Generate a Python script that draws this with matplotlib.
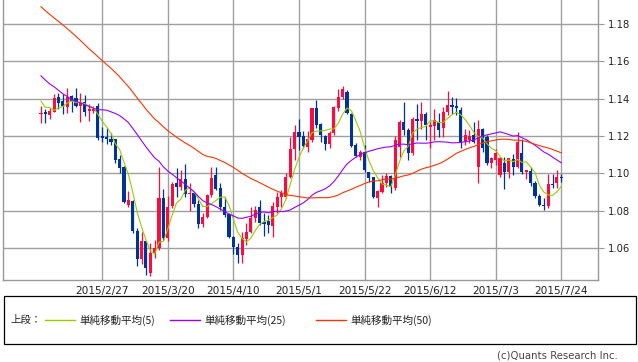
import matplotlib
matplotlib.use('Agg')
import matplotlib.pyplot as plt
import numpy as np
import pandas as pd
from matplotlib.lines import Line2D
from matplotlib.patches import Rectangle

# Daily OHLC, weekdays 2015/2/9 - 2015/7/24
opens = [1.1320, 1.1329, 1.1314, 1.1330, 1.1407, 1.1389, 1.1354, 1.1414, 1.1402, 1.1361,
         1.1384, 1.1334, 1.1334, 1.1361, 1.1200, 1.1196, 1.1186, 1.1182, 1.1075, 1.1032,
         1.0830, 1.0854, 1.0693, 1.0541, 1.0638, 1.0466, 1.0571, 1.0598, 1.0866, 1.0652,
         1.0825, 1.0950, 1.0925, 1.0970, 1.0889, 1.0895, 1.0836, 1.0730, 1.0768, 1.0882,
         1.0991, 1.0920, 1.0821, 1.0782, 1.0661, 1.0607, 1.0563, 1.0646, 1.0687, 1.0759,
         1.0821, 1.0740, 1.0745, 1.0720, 1.0821, 1.0875, 1.0875, 1.0979, 1.1129, 1.1223,
         1.1200, 1.1143, 1.1179, 1.1348, 1.1264, 1.1200, 1.1157, 1.1214, 1.1348, 1.1407,
         1.1438, 1.1318, 1.1152, 1.1089, 1.1116, 1.1009, 1.0982, 1.0866, 1.0902, 1.0946,
         1.0986, 1.0920, 1.1140, 1.1277, 1.1232, 1.1107, 1.1293, 1.1279, 1.1320, 1.1246,
         1.1254, 1.1275, 1.1241, 1.1330, 1.1364, 1.1360, 1.1339, 1.1170, 1.1180, 1.1205,
         1.1032, 1.1236, 1.1196, 1.1054, 1.1073, 1.0991, 1.1057, 1.1009, 1.1077, 1.1036,
         1.1111, 1.1005, 1.1014, 1.0950, 1.0880, 1.0830, 1.0825, 1.0945, 1.0946, 1.0979]
highs = [1.1360, 1.1343, 1.1348, 1.1425, 1.1429, 1.1425, 1.1455, 1.1420, 1.1455, 1.1429,
         1.1420, 1.1371, 1.1361, 1.1375, 1.1250, 1.1241, 1.1214, 1.1182, 1.1098, 1.1039,
         1.0905, 1.0858, 1.0705, 1.0684, 1.0640, 1.0625, 1.0643, 1.1032, 1.0914, 1.0880,
         1.0955, 1.1030, 1.1018, 1.1050, 1.0950, 1.0902, 1.0857, 1.0786, 1.0890, 1.1032,
         1.1032, 1.0946, 1.0875, 1.0786, 1.0665, 1.0625, 1.0687, 1.0732, 1.0821, 1.0825,
         1.0857, 1.0786, 1.0777, 1.0845, 1.0902, 1.0911, 1.1000, 1.1193, 1.1259, 1.1289,
         1.1229, 1.1225, 1.1350, 1.1393, 1.1270, 1.1205, 1.1225, 1.1361, 1.1450, 1.1468,
         1.1446, 1.1321, 1.1161, 1.1125, 1.1152, 1.1009, 1.0982, 1.0911, 1.0991, 1.1000,
         1.0991, 1.1200, 1.1286, 1.1384, 1.1241, 1.1304, 1.1370, 1.1384, 1.1330, 1.1277,
         1.1343, 1.1323, 1.1357, 1.1441, 1.1411, 1.1404, 1.1355, 1.1236, 1.1232, 1.1277,
         1.1286, 1.1241, 1.1205, 1.1089, 1.1132, 1.1089, 1.1089, 1.1080, 1.1104, 1.1221,
         1.1182, 1.1018, 1.1032, 1.0959, 1.0889, 1.0870, 1.0995, 1.0995, 1.1018, 1.0996]
lows = [1.1270, 1.1271, 1.1289, 1.1328, 1.1346, 1.1316, 1.1321, 1.1330, 1.1354, 1.1277,
        1.1307, 1.1282, 1.1321, 1.1179, 1.1170, 1.1155, 1.1152, 1.1054, 1.1000, 1.0840,
        1.0821, 1.0682, 1.0505, 1.0514, 1.0455, 1.0450, 1.0545, 1.0590, 1.0643, 1.0640,
        1.0815, 1.0875, 1.0911, 1.0875, 1.0800, 1.0821, 1.0709, 1.0714, 1.0759, 1.0875,
        1.0911, 1.0804, 1.0768, 1.0652, 1.0568, 1.0518, 1.0518, 1.0616, 1.0679, 1.0741,
        1.0723, 1.0665, 1.0680, 1.0661, 1.0786, 1.0821, 1.0866, 1.0975, 1.1071, 1.1125,
        1.1134, 1.1116, 1.1170, 1.1241, 1.1170, 1.1125, 1.1134, 1.1205, 1.1336, 1.1400,
        1.1316, 1.1139, 1.1086, 1.1071, 1.1009, 1.0955, 1.0866, 1.0821, 1.0893, 1.0929,
        1.0893, 1.0913, 1.1089, 1.1205, 1.1071, 1.1098, 1.1180, 1.1238, 1.1179, 1.1134,
        1.1179, 1.1193, 1.1196, 1.1314, 1.1320, 1.1313, 1.1134, 1.1152, 1.1161, 1.1161,
        1.0950, 1.1116, 1.1045, 1.1027, 1.1045, 1.0980, 1.0914, 1.0973, 1.0991, 1.1030,
        1.0995, 1.0968, 1.0932, 1.0870, 1.0825, 1.0805, 1.0814, 1.0920, 1.0920, 1.0955]
closes = [1.1325, 1.1316, 1.1336, 1.1402, 1.1375, 1.1361, 1.1411, 1.1389, 1.1361, 1.1380,
          1.1330, 1.1343, 1.1346, 1.1188, 1.1189, 1.1182, 1.1168, 1.1071, 1.1027, 1.0845,
          1.0855, 1.0693, 1.0541, 1.0638, 1.0491, 1.0571, 1.0598, 1.0866, 1.0652, 1.0821,
          1.0945, 1.0925, 1.0968, 1.0889, 1.0893, 1.0836, 1.0729, 1.0768, 1.0884, 1.0977,
          1.0914, 1.0821, 1.0777, 1.0657, 1.0607, 1.0563, 1.0652, 1.0687, 1.0759, 1.0804,
          1.0732, 1.0728, 1.0725, 1.0825, 1.0875, 1.0893, 1.0982, 1.1129, 1.1223, 1.1196,
          1.1146, 1.1182, 1.1348, 1.1259, 1.1205, 1.1157, 1.1218, 1.1357, 1.1407, 1.1450,
          1.1321, 1.1146, 1.1093, 1.1116, 1.1018, 1.0973, 1.0875, 1.0905, 1.0946, 1.0986,
          1.0929, 1.1180, 1.1277, 1.1232, 1.1107, 1.1289, 1.1282, 1.1320, 1.1259, 1.1259,
          1.1288, 1.1234, 1.1330, 1.1364, 1.1357, 1.1350, 1.1170, 1.1205, 1.1203, 1.1170,
          1.1236, 1.1134, 1.1054, 1.1080, 1.1109, 1.1080, 1.1009, 1.1080, 1.1036, 1.1168,
          1.1005, 1.1018, 1.0950, 1.0880, 1.0830, 1.0823, 1.0941, 1.0936, 1.0979, 1.0973]

# Closes 2014/12/2 - 2015/2/6 (off the chart), only used to start the moving averages
prior_closes = [1.2380, 1.2310, 1.2380, 1.2290, 1.2310, 1.2380, 1.2430, 1.2410, 1.2460, 1.2440,
                1.2500, 1.2340, 1.2290, 1.2230, 1.2230, 1.2170, 1.2190, 1.2210, 1.2190, 1.2150,
                1.2160, 1.2100, 1.2100, 1.2000, 1.1935, 1.1890, 1.1840, 1.1790, 1.1840, 1.1830,
                1.1770, 1.1780, 1.1630, 1.1560, 1.1610, 1.1550, 1.1610, 1.1370, 1.1200, 1.1240,
                1.1380, 1.1290, 1.1320, 1.1290, 1.1340, 1.1480, 1.1340, 1.1480, 1.1310]

ma_periods = [5, 25, 50]
ma_colors = ['#99cc00', '#9900ff', '#ff3300']
ma_labels = ['単純移動平均(5)', '単純移動平均(25)', '単純移動平均(50)']
tick_dates = ['2015-02-27', '2015-03-20', '2015-04-10', '2015-05-01',
              '2015-05-22', '2015-06-12', '2015-07-03', '2015-07-24']
price_ticks = [1.06, 1.08, 1.10, 1.12, 1.14, 1.16, 1.18]

UP = '#ff0a3c'
DOWN = '#003399'
GRID = '#a0a0a0'

W, H = 638, 362
fig = plt.figure(figsize=(W / 100, H / 100), dpi=100)
ax = fig.add_axes([3.3 / W, 1 - 280 / H, 595 / W, 280 / H])

dates = pd.bdate_range('2015-02-09', '2015-07-24')
x = np.arange(len(closes))
o = np.array(opens)
c = np.array(closes)
hi = np.array(highs)
lo = np.array(lows)
up = c >= o
colors = np.where(up, UP, DOWN)

# wicks and bodies
ax.vlines(x, lo, hi, colors=colors, lw=0.9, zorder=3)
body = np.maximum(np.abs(c - o), 0.00035)
ax.bar(x, body, bottom=np.minimum(o, c), width=0.72, color=colors, lw=0, zorder=4)

# simple moving averages
all_closes = pd.Series(prior_closes + closes)
for n, col in zip(ma_periods, ma_colors):
    ma = all_closes.rolling(n).mean().to_numpy()[len(prior_closes):]
    ax.plot(x, ma, color=col, lw=0.8, zorder=5)

ax.set_xlim(-8.62, 127.47)
ax.set_ylim(1.0429, 1.1929)

tick_idx = [int(np.where(dates == pd.Timestamp(d))[0][0]) for d in tick_dates]
ax.set_xticks(tick_idx)
ax.set_xticklabels(['{}/{}/{}'.format(dates[i].year, dates[i].month, dates[i].day) for i in tick_idx])
ax.set_yticks(price_ticks)
ax.set_yticklabels(['{:.2f}'.format(p) for p in price_ticks])
ax.yaxis.tick_right()
ax.tick_params(axis='x', length=0, pad=4, labelsize=7.6, labelcolor='#222222')
ax.tick_params(axis='y', length=4, width=0.8, color='#999999', pad=3,
               labelsize=7.2, labelcolor='#222222')
ax.grid(True, color=GRID, lw=1.0, zorder=0)
ax.set_axisbelow(True)
for side in ['left', 'bottom', 'right']:
    ax.spines[side].set_color('#999999')
    ax.spines[side].set_linewidth(1.0)
ax.spines['top'].set_visible(False)


def fx(px):
    return px / W


def fy(py):
    return 1 - py / H


# legend box below the chart
fig.add_artist(Rectangle((fx(4), fy(344)), fx(632), 48 / H, transform=fig.transFigure,
                         fill=False, ec='black', lw=0.9))
jp = ['Noto Sans CJK JP', 'DejaVu Sans']
fig.text(fx(10), fy(320), '上段：', family=jp, fontsize=7.5, va='center', color='#222222')
line_x = [45, 170, 316]
for lx, col, lab in zip(line_x, ma_colors, ma_labels):
    fig.add_artist(Line2D([fx(lx), fx(lx + 30)], [fy(320), fy(320)], color=col, lw=1.0,
                          transform=fig.transFigure))
    fig.text(fx(lx + 34), fy(320), lab, family=jp, fontsize=7.6, va='center', color='#222222')

fig.text(fx(618), fy(356), '(c)Quants Research Inc.', fontsize=7.3, ha='right', va='center',
         color='#444444')

fig.savefig('out.png', dpi=100)
